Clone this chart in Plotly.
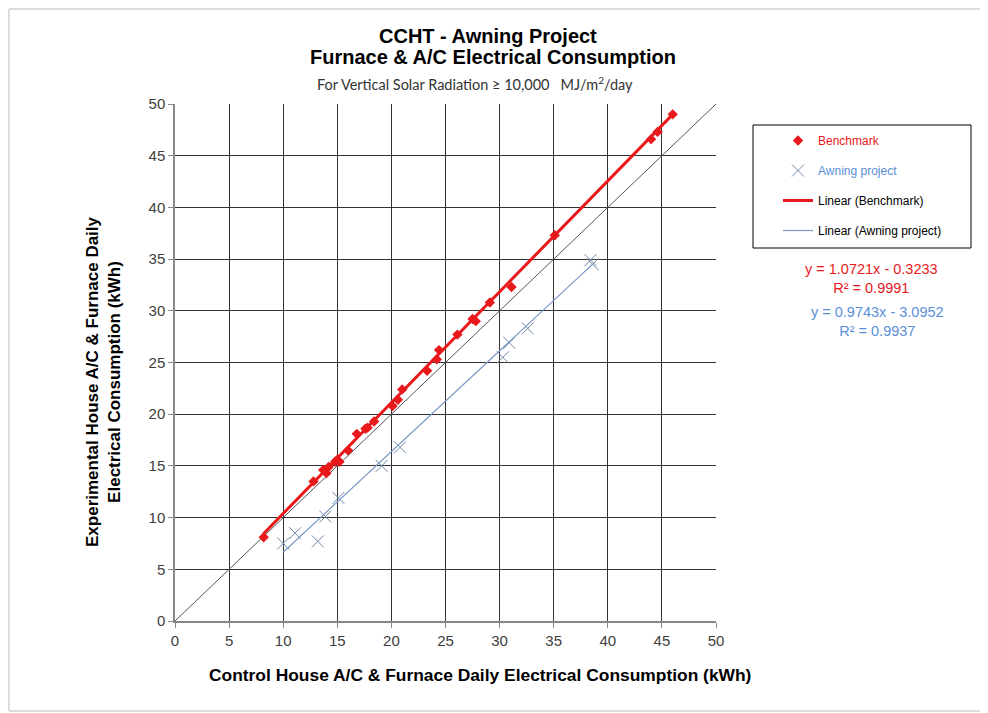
import numpy as np
import plotly.graph_objects as go

# Benchmark (red diamonds)
bench_x = [8.2, 12.8, 13.7, 14.0, 14.2, 14.8, 15.0, 15.2, 16.0, 16.8, 17.6, 17.8, 18.4,
           20.1, 20.6, 21.0, 23.3, 24.2, 24.4, 26.1, 27.5, 27.8, 29.1, 31.1, 35.1,
           44.0, 44.6, 46.0]
bench_y = [8.1, 13.5, 14.6, 14.3, 14.9, 15.4, 15.6, 15.4, 16.5, 18.1, 18.6, 18.7, 19.3,
           20.8, 21.4, 22.4, 24.2, 25.3, 26.2, 27.7, 29.2, 29.0, 30.8, 32.3, 37.3,
           46.6, 47.3, 49.0]

# Awning project (blue crosses)
awn_x = [10.0, 11.1, 13.2, 13.9, 15.1, 19.1, 20.8, 30.3, 30.9, 32.6, 38.4, 38.6]
awn_y = [7.5, 8.5, 7.7, 10.1, 11.9, 15.0, 16.8, 25.5, 26.9, 28.3, 34.9, 34.5]

# trendline coefficients as printed on the chart
bench_fit = (1.0721, -0.3233, 0.9991)
awn_fit = (0.9743, -3.0952, 0.9937)

ticks = list(range(0, 55, 5))

RED = "#e8191c"
BLUE = "#7a98c4"
BLUE_TXT = "#5a8fd8"
CROSS = "#6f87a8"
FONT = "Liberation Sans"

# page body has an 8px margin, so the figure is a bit smaller than the window
OFF = 8
W, H = 988 - OFF, 713 - OFF
PX0, PX1, PY0, PY1 = 175, 716, 104, 621   # plot area in window pixels
pw, ph = PX1 - PX0, PY1 - PY0


def px(x):
    return (x - PX0) / pw


def py(y):
    return (PY1 - y) / ph


fig = go.Figure()

# 1:1 reference line
fig.add_trace(go.Scatter(x=[0, 50], y=[0, 50], mode="lines",
                         line=dict(color="#555555", width=1), showlegend=False,
                         hoverinfo="skip"))

bx = np.array([min(bench_x), max(bench_x)])
ax = np.array([min(awn_x), max(awn_x)])

fig.add_trace(go.Scatter(x=bench_x, y=bench_y, mode="markers",
                         name=f"<span style='color:{RED}'>Benchmark</span>",
                         legendgroup="a",
                         marker=dict(symbol="diamond", size=8, color=RED)))
fig.add_trace(go.Scatter(x=awn_x, y=awn_y, mode="markers",
                         name=f"<span style='color:{BLUE_TXT}'>Awning project</span>",
                         legendgroup="b",
                         marker=dict(symbol="x-thin-open", size=12, color=CROSS,
                                     line=dict(color=CROSS, width=1))))
fig.add_trace(go.Scatter(x=bx, y=bench_fit[0] * bx + bench_fit[1], mode="lines",
                         name="Linear (Benchmark)", legendgroup="c",
                         line=dict(color=RED, width=3)))
fig.add_trace(go.Scatter(x=ax, y=awn_fit[0] * ax + awn_fit[1], mode="lines",
                         name="Linear (Awning project)", legendgroup="d",
                         line=dict(color=BLUE, width=1.2)))

axis_common = dict(range=[0, 50], tickvals=ticks, showgrid=True,
                   gridcolor="#333333", gridwidth=1, zeroline=False,
                   showline=True, linecolor="#888888", linewidth=1.5,
                   ticks="outside", ticklen=5, tickcolor="#888888",
                   tickfont=dict(family=FONT, size=15, color="#404040"))

fig.update_xaxes(**axis_common)
fig.update_yaxes(**axis_common)

texts = [
    ("<b>CCHT - Awning Project</b>", 488, 36, 20, "black", FONT, 0),
    ("<b>Furnace & A/C Electrical Consumption</b>", 493, 57, 20, "black", FONT, 0),
    ("For Vertical Solar Radiation ≥ 10,000   MJ/m<sup>2</sup>/day", 475, 83, 14.5, "#333333", "Lato", 0),
    ("<b>Control House A/C & Furnace Daily Electrical Consumption (kWh)</b>",
     480, 675, 17.4, "black", FONT, 0),
    ("<b>Experimental House A/C & Furnace Daily<br>Electrical Consumption (kWh)</b>",
     103, 382, 17, "black", FONT, -90),
    (f"y = {bench_fit[0]:.4f}x - {abs(bench_fit[1]):.4f}<br>R² = {bench_fit[2]:.4f}",
     871, 278, 14.5, RED, FONT, 0),
    (f"y = {awn_fit[0]:.4f}x - {abs(awn_fit[1]):.4f}<br>R² = {awn_fit[2]:.4f}",
     877, 321, 14.5, BLUE_TXT, FONT, 0),
]
fig.update_layout(annotations=[
    dict(text=t, x=px(x), y=py(y), xref="paper", yref="paper", showarrow=False,
         font=dict(family=f, size=s, color=c), xanchor="center", yanchor="middle",
         align="center", textangle=a)
    for t, x, y, s, c, f, a in texts])

fig.update_layout(
    width=W, height=H,
    margin=dict(l=PX0 - OFF, r=W - (PX1 - OFF), t=PY0 - OFF, b=H - (PY1 - OFF)),
    plot_bgcolor="white", paper_bgcolor="white",
    font=dict(family=FONT),
    legend=dict(x=px(778), y=py(126), xanchor="left", yanchor="top",
                borderwidth=0, bgcolor="rgba(0,0,0,0)",
                font=dict(family=FONT, size=12, color="black"),
                tracegroupgap=11, itemwidth=30),
    shapes=[
        # legend frame
        dict(type="rect", xref="paper", yref="paper",
             x0=px(753), x1=px(971), y0=py(248), y1=py(125),
             line=dict(color="black", width=1)),
        # outer chart frame
        dict(type="rect", xref="paper", yref="paper",
             x0=px(OFF + 1), x1=px(986), y0=py(711), y1=py(OFF + 1),
             line=dict(color="#bbbbbb", width=1), layer="below"),
    ],
)

fig.write_html("out.html")
